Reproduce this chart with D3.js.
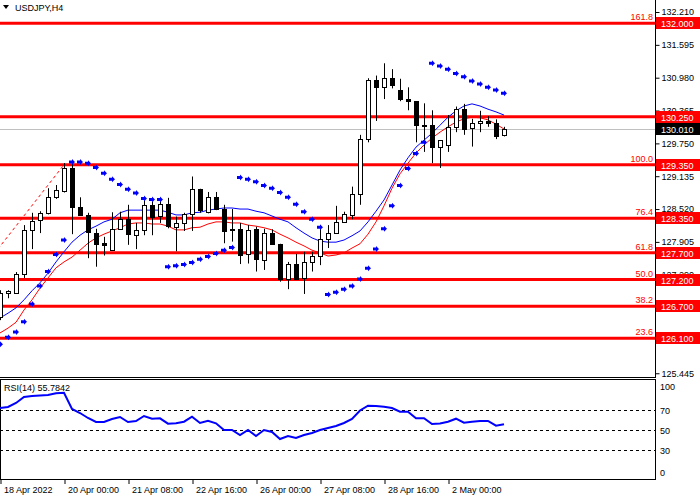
<!DOCTYPE html>
<html>
<head>
<meta charset="utf-8">
<script src="https://cdn.jsdelivr.net/npm/d3@7"></script>
<style>
  body { margin: 0; background: #fff; }
  svg text { font-family: "Liberation Sans", Arial, sans-serif; font-size: 9px; }
</style>
</head>
<body>
<div id="chart"></div>
<script>
// USDJPY H4 bars
var opens = [126.50,126.94,126.95,127.30,128.14,128.30,128.44,128.74,128.84,129.28,
  128.55,128.40,128.08,127.88,127.75,128.14,128.33,128.04,128.13,128.60,
  128.38,128.61,128.18,128.25,128.42,128.89,128.45,128.74,128.52,128.14,
  128.14,127.68,128.14,127.58,128.08,127.87,127.22,127.50,127.22,127.52,
  127.64,127.95,128.07,128.28,128.41,128.81,129.84,130.94,130.81,130.97,
  130.75,130.58,130.54,130.10,130.09,129.67,129.71,130.05,130.39,130.03,
  130.13,130.17,130.13,129.89];
var highs = [127.00,127.00,127.34,128.22,128.45,128.48,128.91,128.97,129.38,129.39,
  128.74,128.45,128.15,128.00,128.46,128.47,128.60,128.26,128.72,128.66,
  128.71,128.73,128.38,128.45,129.13,128.90,128.84,128.84,128.60,128.52,
  128.26,128.22,128.19,128.15,128.14,127.87,127.53,127.68,127.72,127.72,
  128.22,128.22,128.58,128.47,128.94,129.91,130.97,131.02,131.25,131.14,
  130.96,130.80,130.54,130.50,130.37,129.81,130.28,130.44,130.49,130.21,
  130.36,130.26,130.20,130.06];
var lows = [126.44,126.85,126.94,127.23,127.77,128.07,128.42,128.71,128.83,128.05,
  128.39,127.60,127.44,127.65,127.74,128.13,127.85,127.77,128.03,128.03,
  128.26,128.16,127.73,128.11,128.11,128.45,128.44,128.50,127.88,127.91,
  127.49,127.50,127.35,127.38,127.85,127.16,127.02,127.21,126.93,127.35,
  127.47,127.79,128.06,128.26,128.33,128.60,129.77,130.17,130.58,130.78,
  130.54,130.37,129.77,129.59,129.38,129.29,129.59,129.96,129.91,129.69,
  129.96,130.06,129.83,129.88];
var closes = [126.95,126.98,127.30,128.13,128.30,128.44,128.74,128.87,129.28,128.55,
  128.40,128.08,127.88,127.85,128.14,128.33,128.04,128.13,128.60,128.38,
  128.61,128.19,128.25,128.42,128.89,128.49,128.74,128.52,128.10,128.12,
  127.66,128.13,127.58,128.08,127.87,127.22,127.50,127.22,127.52,127.64,
  127.95,128.07,128.28,128.43,128.81,129.84,130.94,130.81,130.97,130.83,
  130.58,130.54,130.09,130.08,129.67,129.81,130.05,130.39,130.02,130.13,
  130.17,130.14,129.89,130.01];

// moving averages (blue above, red below)
var blueMA = [126.48,126.57,126.67,126.82,126.99,127.14,127.32,127.53,127.72,127.90,
  128.03,128.13,128.20,128.28,128.33,128.45,128.50,128.50,128.50,128.50,
  128.50,128.46,128.41,128.41,128.45,128.46,128.50,128.52,128.54,128.54,
  128.52,128.52,128.48,128.45,128.39,128.33,128.28,128.17,128.07,127.98,
  127.92,127.90,127.90,127.94,128.02,128.11,128.28,128.48,128.69,128.97,
  129.25,129.48,129.68,129.81,129.94,130.09,130.24,130.36,130.45,130.49,
  130.45,130.39,130.34,130.28];
var redMA = [126.20,126.29,126.40,126.63,126.82,127.04,127.23,127.42,127.53,127.62,
  127.75,127.88,127.98,128.05,128.11,128.17,128.24,128.26,128.26,128.24,
  128.24,128.20,128.13,128.13,128.17,128.18,128.24,128.28,128.28,128.26,
  128.26,128.22,128.20,128.17,128.13,128.05,127.98,127.90,127.83,127.75,
  127.70,127.64,127.66,127.70,127.79,127.87,128.05,128.28,128.58,128.91,
  129.18,129.38,129.57,129.72,129.85,129.96,130.06,130.15,130.21,130.24,
  130.23,130.19,130.11,130.02];

// parabolic SAR
var sar = [125.99,126.12,126.22,126.41,126.74,127.08,127.35,127.67,127.94,129.40,
  129.40,129.38,129.30,129.19,129.08,128.98,128.89,128.82,128.72,128.70,
  128.70,127.44,127.46,127.48,127.52,127.58,127.63,127.69,127.75,127.80,
  129.11,129.08,129.03,128.96,128.91,128.83,128.74,128.61,128.47,128.33,
  128.18,126.92,126.96,127.02,127.08,127.21,127.41,127.77,128.15,128.58,
  128.96,129.28,129.56,129.77,131.25,131.20,131.14,131.06,131.00,130.92,
  130.86,130.80,130.75,130.69];

// RSI(14)
var rsi = [72,73,77,83,84,84.5,85,86.7,87.3,71,
  67,62,58,58,61,63,58,59,64,61.3,
  61.7,56.3,56.7,58.3,63.3,57,59.3,56.7,50,50,
  45,50,44,50,48,41,44,42,45,47,
  50,52,54,57,61,69.5,74.3,74,73.3,72,
  68.3,68.3,61.7,61.7,56,56.5,58.3,61.3,57.3,58.3,
  59,59,54.3,55.7842];

var timeLabels = ["18 Apr 2022","20 Apr 00:00","21 Apr 08:00","22 Apr 16:00",
  "26 Apr 00:00","27 Apr 08:00","28 Apr 16:00","2 May 00:00"];
var timeTickBars = [0,8,16,24,32,40,48,56];
var priceTicks = [125.445,126.060,126.675,127.290,127.905,128.520,129.135,129.750,130.365,130.980,131.595,132.210];
var levels = [132.000,130.250,129.350,128.350,127.700,127.200,126.700,126.100];
var fibNames = ["161.8","100.0","76.4","61.8","50.0","38.2","23.6"];
var fibPrices = [132.000,129.350,128.350,127.700,127.200,126.700,126.100];
var fibTrend = [[-14.6,125.03],[8,129.35]];
var lastPrice = 130.010;
var rsiTicks = [100,70,50,30,0];
var rsiLevels = [70,50,30];

var W = 700, H = 500;
var plotRight = 655, mainBottom = 377, rsiTop = 380, rsiBottom = 480;

var svg = d3.select("#chart").append("svg")
    .attr("width", W).attr("height", H);

var x = d3.scaleLinear().domain([0, 81.875]).range([0, plotRight]);
var y = d3.scaleLinear().domain([125.375, 132.435]).range([mainBottom, 0]);
var yr = d3.scaleLinear().domain([0, 100]).range([rsiBottom, rsiTop]);

var idx = d3.range(opens.length);

svg.append("clipPath").attr("id", "mainclip")
  .append("rect").attr("x", 0).attr("y", 0).attr("width", plotRight).attr("height", mainBottom);
svg.append("clipPath").attr("id", "rsiclip")
  .append("rect").attr("x", 0).attr("y", rsiTop).attr("width", plotRight).attr("height", rsiBottom - rsiTop);

var main = svg.append("g").attr("clip-path", "url(#mainclip)");

// current price line
main.append("line")
    .attr("x1", 0).attr("x2", plotRight)
    .attr("y1", Math.round(y(lastPrice)) + 0.5).attr("y2", Math.round(y(lastPrice)) + 0.5)
    .attr("stroke", "#c0c0c0");

// horizontal levels
main.selectAll(".level").data(levels).join("line")
    .attr("class", "level")
    .attr("x1", 0).attr("x2", plotRight)
    .attr("y1", d => y(d)).attr("y2", d => y(d))
    .attr("stroke", "#ff0000").attr("stroke-width", 3);

// fibo trend line
main.append("line")
    .attr("x1", x(fibTrend[0][0])).attr("y1", y(fibTrend[0][1]))
    .attr("x2", x(fibTrend[1][0])).attr("y2", y(fibTrend[1][1]))
    .attr("stroke", "#ff0000").attr("stroke-dasharray", "3,3");

// fibo level labels
main.selectAll(".fib").data(fibNames).join("text")
    .attr("class", "fib")
    .attr("x", plotRight - 2)
    .attr("y", (d, i) => y(fibPrices[i]) - 3)
    .attr("text-anchor", "end")
    .attr("fill", "#ff0000")
    .text(d => d);

// moving averages
var lineOf = arr => d3.line().x((d, i) => x(i)).y(d => y(d))(arr);
main.append("path").attr("d", lineOf(redMA)).attr("fill", "none").attr("stroke", "#ff0000");
main.append("path").attr("d", lineOf(blueMA)).attr("fill", "none").attr("stroke", "#0000ff");

// candles
var cx = i => Math.round(x(i));
main.selectAll(".wick").data(idx).join("line")
    .attr("class", "wick")
    .attr("x1", i => cx(i) + 0.5).attr("x2", i => cx(i) + 0.5)
    .attr("y1", i => y(highs[i])).attr("y2", i => y(lows[i]))
    .attr("stroke", "#000");
main.selectAll(".body").data(idx).join("rect")
    .attr("class", "body")
    .attr("x", i => cx(i) - 1.5)
    .attr("width", 4)
    .attr("y", i => Math.round(y(Math.max(opens[i], closes[i]))) + 0.5)
    .attr("height", i => Math.max(1, Math.round(Math.abs(y(opens[i]) - y(closes[i])))))
    .attr("fill", i => closes[i] >= opens[i] ? "#fff" : "#000")
    .attr("stroke", "#000");

// SAR arrows
main.selectAll(".sar").data(sar).join("path")
    .attr("class", "sar")
    .attr("transform", (d, i) => `translate(${x(i)},${y(d)})`)
    .attr("d", "M-3,-1.5L0,-1.5L0,-3L3,0L0,3L0,1.5L-3,1.5Z")
    .attr("fill", "#0000ff");

// title
svg.append("path").attr("d", "M3,5L9,5L6,9Z").attr("fill", "#000");
svg.append("text").attr("x", 15).attr("y", 11).attr("fill", "#000").text("USDJPY,H4");

// price axis
var yAxis = d3.axisRight(y).tickValues(priceTicks).tickSize(4).tickSizeOuter(0)
    .tickFormat(d3.format(".3f"));
var ya = svg.append("g").attr("transform", `translate(${plotRight + 0.5},0)`).call(yAxis);
ya.select(".domain").attr("d", `M0,0V${mainBottom}`);
ya.selectAll("text").attr("x", 6).style("font-size", "9px").attr("fill", "#000");

svg.append("line").attr("x1", 0).attr("x2", plotRight + 1)
    .attr("y1", mainBottom + 0.5).attr("y2", mainBottom + 0.5).attr("stroke", "#000");

// level price tags
var tags = svg.append("g");
levels.forEach(function(p) {
  tags.append("rect").attr("x", plotRight + 1).attr("y", Math.round(y(p)) - 6)
      .attr("width", W - plotRight).attr("height", 12).attr("fill", "#ff0000");
  tags.append("text").attr("x", plotRight + 6).attr("y", Math.round(y(p)) + 3.5)
      .attr("fill", "#fff").text(p.toFixed(3));
});
tags.append("rect").attr("x", plotRight + 1).attr("y", Math.round(y(lastPrice)) - 6)
    .attr("width", W - plotRight).attr("height", 12).attr("fill", "#000");
tags.append("text").attr("x", plotRight + 6).attr("y", Math.round(y(lastPrice)) + 3.5)
    .attr("fill", "#fff").text(lastPrice.toFixed(3));

// RSI panel
svg.append("rect").attr("x", 0.5).attr("y", rsiTop - 0.5)
    .attr("width", plotRight).attr("height", rsiBottom - rsiTop)
    .attr("fill", "none").attr("stroke", "#000");

var rp = svg.append("g").attr("clip-path", "url(#rsiclip)");
rp.selectAll(".rl").data(rsiLevels).join("line")
    .attr("class", "rl")
    .attr("x1", 0).attr("x2", plotRight)
    .attr("y1", d => yr(d) + 0.5).attr("y2", d => yr(d) + 0.5)
    .attr("stroke", "#000").attr("stroke-dasharray", "3,3");
rp.append("path")
    .attr("d", d3.line().x((d, i) => x(i)).y(d => yr(d))(rsi))
    .attr("fill", "none").attr("stroke", "#0000ff").attr("stroke-width", 2);

svg.append("text").attr("x", 4).attr("y", 391).attr("fill", "#000").text("RSI(14) 55.7842");

svg.selectAll(".rt").data(rsiTicks).join("text")
    .attr("class", "rt")
    .attr("x", plotRight + 5)
    .attr("y", d => d === 100 ? yr(d) + 10 : d === 0 ? yr(d) - 4 : yr(d) + 3.5)
    .attr("fill", "#000")
    .text(d => d);

// time axis
var xAxis = d3.axisBottom(x).tickValues(timeTickBars).tickSize(4).tickSizeOuter(0)
    .tickFormat((d, i) => timeLabels[i]);
var xa = svg.append("g").attr("transform", `translate(0.5,${rsiBottom})`).call(xAxis);
xa.select(".domain").remove();
xa.selectAll("text").attr("text-anchor", "start").attr("x", 3).attr("y", 7)
    .style("font-size", "9px").attr("fill", "#000");
</script>
</body>
</html>
